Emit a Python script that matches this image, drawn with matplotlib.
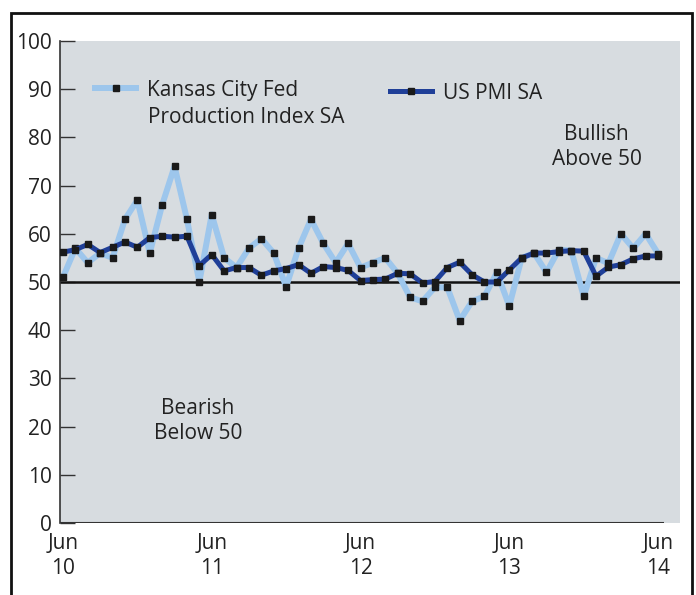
import matplotlib.pyplot as plt
from matplotlib.lines import Line2D
from matplotlib.patches import Rectangle

plt.rcParams['font.family'] = ['Open Sans', 'DejaVu Sans']

# monthly, Jun 2010 .. Jun 2014
kc_fed = [51, 57, 54, 56, 55, 63, 67, 56, 66, 74, 63, 50,
          64, 55, 53, 57, 59, 56, 49, 57, 63, 58, 54, 58,
          53, 54, 55, 51.8, 46.8, 46, 48.9, 48.9, 42, 46, 47, 52,
          45, 55, 56, 52, 56.7, 56.5, 47, 55, 53.9, 60, 57, 60,
          55.9]
us_pmi = [56.2, 56.7, 57.8, 56.1, 57.2, 58.3, 57.2, 59.2, 59.5, 59.3, 59.5, 53.4,
          55.7, 52.3, 53, 53, 51.4, 52.3, 52.8, 53.6, 51.8, 53.2, 53, 52.4,
          50.3, 50.5, 50.6, 51.8, 51.7, 49.8, 50.1, 53, 54.1, 51.5, 50, 50,
          52.5, 55, 56, 56, 56.3, 56.5, 56.4, 51.2, 53.1, 53.6, 54.8, 55.4,
          55.4]
months = list(range(len(kc_fed)))
tick_pos = [0, 12, 24, 36, 48]
tick_labels = ["Jun\n10", "Jun\n11", "Jun\n12", "Jun\n13", "Jun\n14"]

light = "#9dc6ec"
dark = "#1f3f98"
bg = "#d7dce0"
txt = "#222222"
fs = 15

fig = plt.figure(figsize=(6.96, 5.95), dpi=100)
ax = fig.add_axes([60/696, 1-523/595, 620/696, 482/595])
ax.set_facecolor(bg)

ax.axhline(50, color="#111111", lw=1.8, zorder=2)
ax.hlines(0, -0.24, 48.5, color="#333333", lw=1.5, zorder=2)

ax.plot(months, kc_fed, color=light, lw=4.3, marker="s", ms=4.5,
        mfc="#1a1a1a", mec="#1a1a1a", zorder=3)
ax.plot(months, us_pmi, color=dark, lw=3.6, marker="s", ms=4.5,
        mfc="#1a1a1a", mec="#1a1a1a", zorder=4)

ax.set_xlim(-0.24, 49.77)
ax.set_ylim(0, 100)
ax.set_yticks(range(0, 101, 10))
ax.set_xticks(tick_pos)
ax.set_xticklabels(tick_labels, linespacing=1.25, color=txt)
ax.tick_params(axis="y", direction="in", length=11, width=1, color="#333333",
               labelsize=fs, pad=6, labelcolor=txt)
ax.tick_params(axis="x", length=0, labelsize=fs, pad=7)
for s in ["top", "right", "bottom"]:
    ax.spines[s].set_visible(False)
ax.spines["left"].set_color("#333333")
ax.spines["left"].set_linewidth(1.2)

h1 = Line2D([], [], color=light, lw=4.3, marker="s", ms=4.5, mfc="#1a1a1a", mec="#1a1a1a")
h2 = Line2D([], [], color=dark, lw=3.6, marker="s", ms=4.5, mfc="#1a1a1a", mec="#1a1a1a")
leg1 = ax.legend([h1], ["Kansas City Fed"], loc="center left",
                 bbox_to_anchor=(0.056, 0.898), frameon=False, fontsize=fs,
                 handlelength=2.0, handletextpad=0.53, borderpad=0, borderaxespad=0,
                 numpoints=1, labelcolor=txt)
ax.add_artist(leg1)
ax.legend([h2], ["US PMI SA"], loc="center left", bbox_to_anchor=(0.532, 0.892),
          frameon=False, fontsize=fs, handlelength=2.0, handletextpad=0.53,
          borderpad=0, borderaxespad=0, numpoints=1, labelcolor=txt)
ax.text(0.142, 0.842, "Production Index SA", transform=ax.transAxes,
        ha="left", va="center", fontsize=fs, color=txt)

ax.text(43.06, 78, "Bullish\nAbove 50", ha="center", va="center", fontsize=fs,
        multialignment="center", color=txt, linespacing=1.25)
ax.text(10.9, 21.2, "Bearish\nBelow 50", ha="center", va="center", fontsize=fs,
        multialignment="center", color=txt, linespacing=1.25)

fig.patches.append(Rectangle((11/696, -0.02), 681/696, 1-13/595+0.02,
                             transform=fig.transFigure, fill=False,
                             edgecolor="#111111", lw=2))

plt.savefig("out.png", dpi=100)
